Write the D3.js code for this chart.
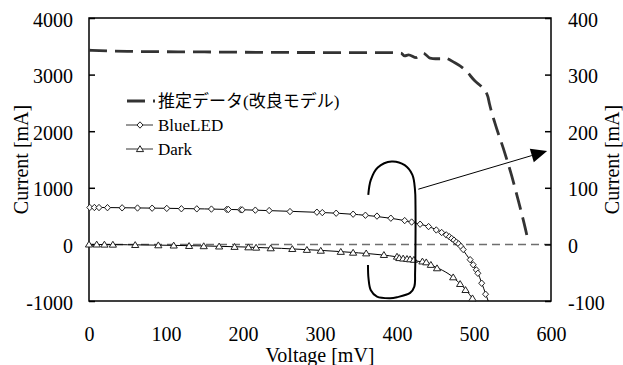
<!DOCTYPE html>
<html>
<head>
<meta charset="utf-8">
<script src="https://cdn.jsdelivr.net/npm/d3@7"></script>
<style>
  body { margin: 0; background: #fff; }
  text { font-family: "Liberation Serif", "Times New Roman", "Noto Sans CJK JP", serif; fill: #000; }
</style>
</head>
<body>
<svg id="chart" width="623" height="365"></svg>
<script>
"use strict";
// axis ticks
const xTicks = [0, 100, 200, 300, 400, 500, 600];
const leftTicks = [-1000, 0, 1000, 2000, 3000, 4000];
const rightTicks = [-100, 0, 100, 200, 300, 400];

// BlueLED measured points (mV, mA)
const blueV = [1, 7, 13, 24, 43, 63, 82, 101, 120, 140, 159, 179, 181, 197, 199, 216, 234, 261, 296, 303, 321, 343, 359, 374, 392, 410, 419, 430, 441, 451, 458, 464, 468, 471, 474, 477, 480, 483, 486, 495, 499, 503, 505, 510, 515];
const blueI = [652, 652, 651, 649, 646, 643, 640, 636, 630, 628, 624, 618, 617, 611, 610, 605, 598, 580, 569, 562, 551, 534, 515, 500, 463, 421, 395, 357, 315, 255, 210, 168, 135, 105, 75, 40, 10, -35, -90, -270, -360, -450, -510, -686, -880];
// BlueLED fit line
const blueFitV = [0, 100, 200, 260, 300, 350, 390, 410, 430, 445, 455, 465, 475, 480, 490, 500, 505, 510, 515, 518.5];
const blueFitI = [655, 638, 612, 585, 565, 525, 465, 420, 358, 295, 235, 160, 55, 5, -180, -380, -505, -680, -870, -1000];

// Dark measured points
const darkV = [0, 10, 20, 31, 60, 90, 110, 130, 149, 169, 189, 207, 217, 236, 264, 283, 301, 327, 343, 360, 383, 400, 403, 408, 413, 417, 422, 433, 438, 444, 452, 473, 482, 489, 498];
const darkI = [0, 0, -2, -3, -9, -14, -18, -26, -30, -35, -42, -50, -56, -67, -80, -95, -110, -130, -145, -157, -185, -215, -240, -248, -255, -262, -270, -300, -315, -360, -420, -580, -698, -804, -951];
// Dark fit line
const darkFitV = [0, 100, 200, 250, 300, 350, 380, 400, 420, 440, 455, 470, 480, 490, 498, 502];
const darkFitI = [0, -15, -45, -70, -105, -150, -185, -220, -275, -345, -430, -550, -670, -810, -950, -1000];

// estimated data (right axis, mA)
const estV = [0, 50, 150, 300, 390, 405, 410, 415, 425, 434, 443, 450, 456, 460, 475, 488, 501, 512, 518, 520, 527, 538, 549, 558, 567, 570];
const estI = [343, 341, 340, 339, 339, 338, 333, 335, 330, 338, 329, 328, 328, 330, 321, 309, 289, 275, 261, 249, 215, 170, 121, 75, 26, 8];

const legendLabels = ["推定データ(改良モデル)", "BlueLED", "Dark"];

// annotation loop and arrow in data units (mV, left mA)
const loopV = [362.7, 366, 375, 393, 410, 420, 423.4, 424, 424, 423.5, 422.5, 417, 400, 391, 374, 366, 363, 362.3];
const loopI = [875, 1140, 1360, 1465, 1400, 1228, 960, 700, 0, -500, -745, -857, -933, -950, -922, -810, -600, -362];
const arrowV = [427.7, 595];
const arrowI = [975, 1650];

const svg = d3.select("#chart");
const padL = 89, padR = 551, padT = 18, padB = 301;

const x = d3.scaleLinear().domain([0, 600]).range([padL, padR]);
const yL = d3.scaleLinear().domain([-1000, 4000]).range([padB, padT]);
const yR = d3.scaleLinear().domain([-100, 400]).range([padB, padT]);

// zero line
svg.append("line")
  .attr("x1", x(0)).attr("x2", x(600))
  .attr("y1", yL(0)).attr("y2", yL(0))
  .attr("stroke", "#6e6e6e").attr("stroke-width", 1.5)
  .attr("stroke-dasharray", "8,5");

// frame
svg.append("rect")
  .attr("x", padL).attr("y", padT)
  .attr("width", padR - padL).attr("height", padB - padT)
  .attr("fill", "none").attr("stroke", "#000").attr("stroke-width", 1.5);

let gL = svg.append("g").attr("transform", `translate(${padL},0)`)
  .call(d3.axisLeft(yL).tickValues(leftTicks).tickSize(-6).tickSizeOuter(0).tickPadding(16).tickFormat(d => String(d)));
let gR = svg.append("g").attr("transform", `translate(${padR},0)`)
  .call(d3.axisRight(yR).tickValues(rightTicks).tickSize(-6).tickSizeOuter(0).tickPadding(17).tickFormat(d => String(d)));
let gX = svg.append("g").attr("transform", `translate(0,${padB})`)
  .call(d3.axisBottom(x).tickValues(xTicks).tickSize(0).tickSizeOuter(0).tickPadding(26).tickFormat(d => String(d)));

[gL, gR, gX].forEach(g => {
  g.attr("font-family", null);
  g.select(".domain").remove();
  g.selectAll(".tick line").attr("stroke", "#000").attr("stroke-width", 1.5);
  g.selectAll("text").attr("font-size", 20).attr("fill", "#000");
});
gL.selectAll("text").attr("dy", "0.4em");
gR.selectAll("text").attr("dy", "0.4em");

// axis titles
svg.append("text").attr("transform", `translate(28,${(padT + padB) / 2}) rotate(-90)`)
  .attr("text-anchor", "middle").attr("font-size", 20).text("Current [mA]");
svg.append("text").attr("transform", `translate(619,${(padT + padB) / 2}) rotate(-90)`)
  .attr("text-anchor", "middle").attr("font-size", 20).text("Current [mA]");
svg.append("text").attr("x", (padL + padR) / 2).attr("y", 362)
  .attr("text-anchor", "middle").attr("font-size", 20).text("Voltage [mV]");

// estimated dashed curve
const estLine = d3.line().x(d => x(d[0])).y(d => yR(d[1])).curve(d3.curveMonotoneX);
svg.append("path")
  .datum(d3.zip(estV, estI))
  .attr("d", estLine)
  .attr("fill", "none").attr("stroke", "#333").attr("stroke-width", 2.8)
  .attr("stroke-dasharray", "18,8");

// fit lines
const fitLine = d3.line().x(d => x(d[0])).y(d => yL(d[1])).curve(d3.curveMonotoneX);
svg.append("path").datum(d3.zip(blueFitV, blueFitI)).attr("d", fitLine)
  .attr("fill", "none").attr("stroke", "#000").attr("stroke-width", 1);
svg.append("path").datum(d3.zip(darkFitV, darkFitI)).attr("d", fitLine)
  .attr("fill", "none").attr("stroke", "#000").attr("stroke-width", 1);

function diamond(cx, cy) {
  return `M${cx},${cy - 3.2}L${cx + 3},${cy}L${cx},${cy + 3.2}L${cx - 3},${cy}Z`;
}
function triangle(cx, cy) {
  return `M${cx},${cy - 3.3}L${cx + 3.6},${cy + 2.6}L${cx - 3.6},${cy + 2.6}Z`;
}

svg.append("g").selectAll("path")
  .data(d3.zip(blueV, blueI))
  .join("path")
  .attr("d", d => diamond(x(d[0]), yL(d[1])))
  .attr("fill", "#fff").attr("stroke", "#222").attr("stroke-width", 1);

svg.append("g").selectAll("path")
  .data(d3.zip(darkV, darkI))
  .join("path")
  .attr("d", d => triangle(x(d[0]), yL(d[1])))
  .attr("fill", "#fff").attr("stroke", "#222").attr("stroke-width", 1);

// annotation loop
svg.append("path")
  .datum(d3.zip(loopV, loopI))
  .attr("d", d3.line().x(d => x(d[0])).y(d => yL(d[1])).curve(d3.curveCatmullRom))
  .attr("fill", "none").attr("stroke", "#000").attr("stroke-width", 2);

// arrow
const ax0 = x(arrowV[0]), ay0 = yL(arrowI[0]), ax1 = x(arrowV[1]), ay1 = yL(arrowI[1]);
const ang = Math.atan2(ay1 - ay0, ax1 - ax0);
const headLen = 16, headHalf = 7;
const bx = ax1 - headLen * Math.cos(ang), by = ay1 - headLen * Math.sin(ang);
svg.append("line").attr("x1", ax0).attr("y1", ay0).attr("x2", bx).attr("y2", by)
  .attr("stroke", "#000").attr("stroke-width", 1);
svg.append("path")
  .attr("d", `M${ax1},${ay1}L${bx + headHalf * Math.sin(ang)},${by - headHalf * Math.cos(ang)}L${bx - headHalf * Math.sin(ang)},${by + headHalf * Math.cos(ang)}Z`)
  .attr("fill", "#000");

// legend
const legY = [101, 125, 149];
const lg = svg.append("g");
lg.append("line").attr("x1", 127).attr("x2", 155).attr("y1", legY[0]).attr("y2", legY[0])
  .attr("stroke", "#333").attr("stroke-width", 2.8).attr("stroke-dasharray", "18,8");
[1, 2].forEach(i => {
  lg.append("line").attr("x1", 126).attr("x2", 153).attr("y1", legY[i]).attr("y2", legY[i])
    .attr("stroke", "#333").attr("stroke-width", 1);
});
lg.append("path").attr("d", diamond(140, legY[1])).attr("fill", "#fff").attr("stroke", "#222");
lg.append("path").attr("d", triangle(140, legY[2])).attr("fill", "#fff").attr("stroke", "#222");
lg.selectAll("text.leg")
  .data(legendLabels)
  .join("text")
  .attr("class", "leg")
  .attr("x", 158)
  .attr("y", (d, i) => legY[i])
  .attr("dy", "0.35em")
  .attr("font-size", 17)
  .text(d => d);
</script>
</body>
</html>
